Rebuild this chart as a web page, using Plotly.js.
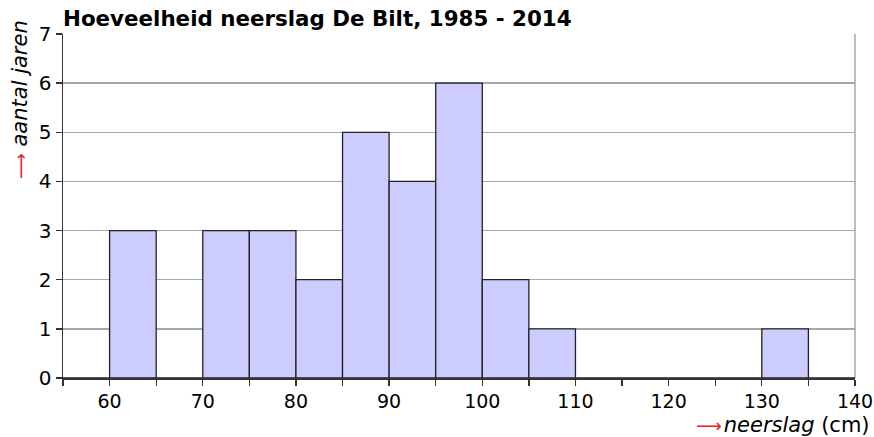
<!DOCTYPE html>
<html>
<head>
<meta charset="utf-8">
<script src="https://cdn.plot.ly/plotly-3.0.1.min.js"></script>
<style>html,body{margin:0;padding:0;background:#fff}#chart{width:874px;height:437px}</style>
</head>
<body>
<div id="chart"></div>
<script>
// Histogram bins (start of each 5 cm bin) and number of years
const binStart = [55, 60, 65, 70, 75, 80, 85, 90, 95, 100, 105, 110, 115, 120, 125, 130, 135];
const counts   = [0, 3, 0, 3, 3, 2, 5, 4, 6, 2, 1, 0, 0, 0, 0, 1, 0];
const binWidth = 5;
const xTickVals = [55, 60, 65, 70, 75, 80, 85, 90, 95, 100, 105, 110, 115, 120, 125, 130, 135, 140];
const xTickText = ['', '60', '', '70', '', '80', '', '90', '', '100', '', '110', '', '120', '', '130', '', '140'];
const yTickVals = [0, 1, 2, 3, 4, 5, 6, 7];

const font = 'DejaVu Sans, sans-serif';
const arrow = '<span style="color:#e8202a;font-size:18px">\u27F6</span>';

const trace = {
  type: 'bar',
  x: binStart,
  y: counts,
  width: binStart.map(() => binWidth),
  offset: 0,
  marker: {color: '#ccccff', line: {color: '#222222', width: 1.3}},
  hoverinfo: 'skip'
};

const layout = {
  width: 874, height: 437,
  margin: {l: 63, r: 19, t: 34, b: 59},
  paper_bgcolor: '#ffffff',
  plot_bgcolor: '#ffffff',
  showlegend: false,
  bargap: 0,
  title: {
    text: '<b>Hoeveelheid neerslag De Bilt, 1985 - 2014</b>',
    font: {family: font, size: 21.4, color: '#000'},
    x: 63/874, xanchor: 'left', xref: 'container',
    y: 1 - 19/437, yanchor: 'middle', yref: 'container'
  },
  xaxis: {
    range: [55, 140],
    tickmode: 'array', tickvals: xTickVals, ticktext: xTickText,
    ticks: 'outside', ticklen: 6, tickwidth: 1.3, tickcolor: '#333',
    showline: true, linecolor: '#333', linewidth: 1.5,
    showgrid: false, zeroline: false,
    ticklabeloverflow: 'allow',
    tickfont: {family: font, size: 19, color: '#000'},
    fixedrange: true
  },
  yaxis: {
    range: [0, 7],
    tickmode: 'array', tickvals: yTickVals,
    ticks: 'outside', ticklen: 6, tickwidth: 1.3, tickcolor: '#333',
    showline: true, linecolor: '#333', linewidth: 1.5,
    showgrid: true, gridcolor: '#a3aaad', gridwidth: 1.5,
    zeroline: false,
    tickfont: {family: font, size: 20, color: '#000'},
    fixedrange: true
  },
  shapes: [
    {type: 'line', xref: 'paper', yref: 'paper', x0: 1, x1: 1, y0: 0, y1: 1,
     line: {color: '#a3aaad', width: 1.5}, layer: 'below'}
  ],
  annotations: [
    {
      text: arrow + ' <i>aantal jaren</i>',
      textangle: -90,
      xref: 'paper', yref: 'paper',
      x: (20 - 63)/792, y: (378 - 100)/344,
      xanchor: 'center', yanchor: 'middle',
      showarrow: false,
      font: {family: font, size: 21, color: '#000'}
    },
    {
      text: arrow + '<span style="font-size:6px"> </span><i>neerslag</i> (cm)',
      xref: 'paper', yref: 'paper',
      x: (872 - 63)/792, y: (378 - 425)/344,
      xanchor: 'right', yanchor: 'middle',
      showarrow: false,
      font: {family: font, size: 21, color: '#000'}
    }
  ]
};

Plotly.newPlot('chart', [trace], layout, {displayModeBar: false, staticPlot: true});
</script>
</body>
</html>
